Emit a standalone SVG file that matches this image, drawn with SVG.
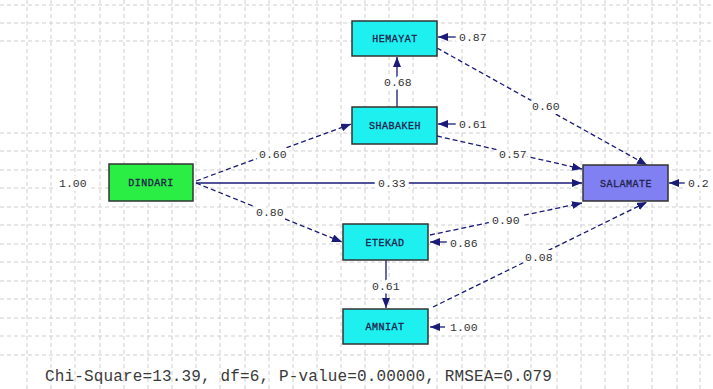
<svg xmlns="http://www.w3.org/2000/svg" width="713" height="389" viewBox="0 0 713 389">
<style>
.grid line{stroke:#cfcfcf;stroke-width:1;stroke-dasharray:4 3}
.node rect{stroke:#333;stroke-width:1.5}
.cyan{fill:#1ef0f0}
.green{fill:#2aee44}
.blue{fill:#8080f2}
.nl{font-family:"Liberation Mono",monospace;font-size:10px;fill:#22224a;text-anchor:middle;letter-spacing:0.5px;stroke:#22224a;stroke-width:0.3px}
.lbl{font-family:"Liberation Mono",monospace;font-size:11.5px;fill:#333;stroke:#fff;stroke-width:8px;paint-order:stroke;stroke-linejoin:round}
.e{stroke:#1a1a78;stroke-width:1.3;fill:none}
.d{stroke-dasharray:5 3}
.stat{font-family:"Liberation Mono",monospace;font-size:16px;fill:#3a3a3a;letter-spacing:0.15px}
</style>
<defs>
<marker id="ah" markerUnits="userSpaceOnUse" markerWidth="10" markerHeight="8" refX="10" refY="4" orient="auto">
<path d="M0,0 L10,4 L0,8 z" fill="#1a1a78"/>
</marker>
</defs>
<rect width="713" height="389" fill="#fff"/>
<g class="grid">
<line x1="27" y1="0" x2="27" y2="389"/><line x1="51" y1="0" x2="51" y2="389"/><line x1="75" y1="0" x2="75" y2="389"/><line x1="100" y1="0" x2="100" y2="389"/><line x1="124" y1="0" x2="124" y2="389"/><line x1="148" y1="0" x2="148" y2="389"/><line x1="172" y1="0" x2="172" y2="389"/><line x1="196" y1="0" x2="196" y2="389"/><line x1="220" y1="0" x2="220" y2="389"/><line x1="245" y1="0" x2="245" y2="389"/><line x1="269" y1="0" x2="269" y2="389"/><line x1="293" y1="0" x2="293" y2="389"/><line x1="317" y1="0" x2="317" y2="389"/><line x1="341" y1="0" x2="341" y2="389"/><line x1="365" y1="0" x2="365" y2="389"/><line x1="389" y1="0" x2="389" y2="389"/><line x1="413" y1="0" x2="413" y2="389"/><line x1="437" y1="0" x2="437" y2="389"/><line x1="462" y1="0" x2="462" y2="389"/><line x1="485" y1="0" x2="485" y2="389"/><line x1="508" y1="0" x2="508" y2="389"/><line x1="531" y1="0" x2="531" y2="389"/><line x1="557" y1="0" x2="557" y2="389"/><line x1="581" y1="0" x2="581" y2="389"/><line x1="605" y1="0" x2="605" y2="389"/><line x1="628" y1="0" x2="628" y2="389"/><line x1="652" y1="0" x2="652" y2="389"/><line x1="677" y1="0" x2="677" y2="389"/><line x1="700" y1="0" x2="700" y2="389"/>
<line x1="0" y1="5" x2="713" y2="5"/><line x1="0" y1="23" x2="713" y2="23"/><line x1="0" y1="41" x2="713" y2="41"/><line x1="0" y1="133" x2="713" y2="133"/><line x1="0" y1="151" x2="713" y2="151"/><line x1="0" y1="170" x2="713" y2="170"/><line x1="0" y1="188" x2="713" y2="188"/><line x1="0" y1="207" x2="713" y2="207"/><line x1="0" y1="225" x2="713" y2="225"/><line x1="0" y1="244" x2="713" y2="244"/><line x1="0" y1="262" x2="713" y2="262"/><line x1="0" y1="281" x2="713" y2="281"/><line x1="0" y1="299" x2="713" y2="299"/><line x1="0" y1="318" x2="713" y2="318"/><line x1="0" y1="336" x2="713" y2="336"/><line x1="0" y1="355" x2="713" y2="355"/>
</g>
<g id="connectors">
<path class="e d" d="M196,181 L351,124" marker-end="url(#ah)"/>
<path class="e" d="M196,183 L582,183" marker-end="url(#ah)"/>
<path class="e d" d="M196,183 L342,242" marker-end="url(#ah)"/>
<path class="e" d="M397,107 L397,57" marker-end="url(#ah)"/>
<path class="e d" d="M437,48 L647,165" marker-end="url(#ah)"/>
<path class="e d" d="M437,136 L582,169" marker-end="url(#ah)"/>
<path class="e d" d="M430,235 L582,203" marker-end="url(#ah)"/>
<path class="e d" d="M433,307 L647,202" marker-end="url(#ah)"/>
<path class="e" d="M386,260 L386,308" marker-end="url(#ah)"/>
<path class="e" d="M457,37 L438,37" marker-end="url(#ah)"/>
<path class="e" d="M457,124 L438,124" marker-end="url(#ah)"/>
<path class="e" d="M447,242 L430,242" marker-end="url(#ah)"/>
<path class="e" d="M445,327 L430,327" marker-end="url(#ah)"/>
<path class="e" d="M685,183 L669,183" marker-end="url(#ah)"/>
<text class="lbl" x="259" y="158">0.60</text>
<text class="lbl" x="378" y="187">0.33</text>
<text class="lbl" x="256" y="216">0.80</text>
<text class="lbl" x="384" y="86">0.68</text>
<text class="lbl" x="532" y="110">0.60</text>
<text class="lbl" x="499" y="158">0.57</text>
<text class="lbl" x="492" y="224">0.90</text>
<text class="lbl" x="525" y="261">0.08</text>
<text class="lbl" x="372" y="290">0.61</text>
</g>
<g id="HEMAYAT" class="node">
<rect class="cyan" x="352" y="21" width="85" height="35"/>
<text class="nl" x="395" y="42">HEMAYAT</text>
<text class="lbl" x="459" y="41">0.87</text>
</g>
<g id="SHABAKEH" class="node">
<rect class="cyan" x="352" y="107" width="85" height="37"/>
<text class="nl" x="395" y="129">SHABAKEH</text>
<text class="lbl" x="459" y="128">0.61</text>
</g>
<g id="DINDARI" class="node">
<rect class="green" x="109" y="164" width="84" height="37"/>
<text class="nl" x="151" y="186">DINDARI</text>
<text class="lbl" x="59" y="187">1.00</text>
</g>
<g id="SALAMATE" class="node">
<rect class="blue" x="583" y="165" width="85" height="36"/>
<text class="nl" x="626" y="187">SALAMATE</text>
<text class="lbl" x="688" y="187">0.2</text>
</g>
<g id="ETEKAD" class="node">
<rect class="cyan" x="343" y="224" width="85" height="36"/>
<text class="nl" x="385" y="246">ETEKAD</text>
<text class="lbl" x="450" y="247">0.86</text>
</g>
<g id="AMNIAT" class="node">
<rect class="cyan" x="343" y="309" width="85" height="35"/>
<text class="nl" x="385" y="330">AMNIAT</text>
<text class="lbl" x="450" y="331">1.00</text>
</g>
<text class="stat" x="45" y="381">Chi-Square=13.39, df=6, P-value=0.00000, RMSEA=0.079</text>
</svg>
